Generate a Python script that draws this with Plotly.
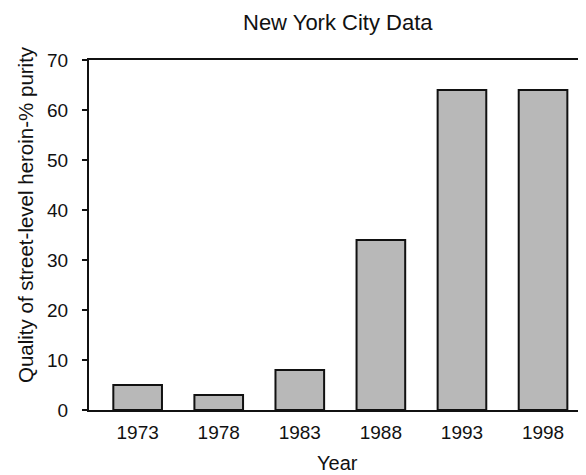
import plotly.graph_objects as go

years = ["1973", "1978", "1983", "1988", "1993", "1998"]
purity = [5, 3, 8, 34, 64, 64]
y_ticks = [0, 10, 20, 30, 40, 50, 60, 70]

font = "Liberation Sans, Arial, Helvetica, sans-serif"
ink = "#111111"

fig = go.Figure(go.Bar(
    x=list(range(len(years))), y=purity,
    marker=dict(color="#b8b8b8", line=dict(color=ink, width=2)),
    width=0.6,
))

# page body adds an 8px offset; margins compensate so the plot lands where the reference has it
fig.update_layout(
    width=586, height=475,
    margin=dict(l=81, r=8, t=52, b=73),
    paper_bgcolor="white", plot_bgcolor="white",
    showlegend=False,
    font=dict(family=font, color=ink),
    annotations=[
        dict(text="New York City Data", xref="paper", yref="paper", x=0.5, y=1,
             yshift=38, xanchor="center", yanchor="middle", showarrow=False,
             font=dict(size=22)),
        dict(text="Year", xref="paper", yref="paper", x=0.5, y=0,
             yshift=-53, xanchor="center", yanchor="middle", showarrow=False,
             font=dict(size=20)),
        dict(text="Quality of street-level heroin-% purity", xref="paper", yref="paper",
             x=0, y=0.5, xshift=-64, yshift=20, xanchor="center", yanchor="middle",
             textangle=-90, showarrow=False, font=dict(size=20.5)),
    ],
)
fig.update_xaxes(
    range=[-0.6, 5.53], tickvals=list(range(len(years))), ticktext=years,
    showline=True, linecolor=ink, linewidth=2, mirror=True,
    ticks="", showgrid=False, zeroline=False, automargin=False,
    tickfont=dict(size=19), ticklabelstandoff=4,
)
fig.update_yaxes(
    range=[0, 70], tickvals=y_ticks,
    showline=True, linecolor=ink, linewidth=2,
    ticks="outside", ticklen=5, tickwidth=1.5, tickcolor=ink,
    showgrid=False, zeroline=False, automargin=False,
    tickfont=dict(size=19), ticklabelstandoff=10,
)

fig.write_html("out.html")
